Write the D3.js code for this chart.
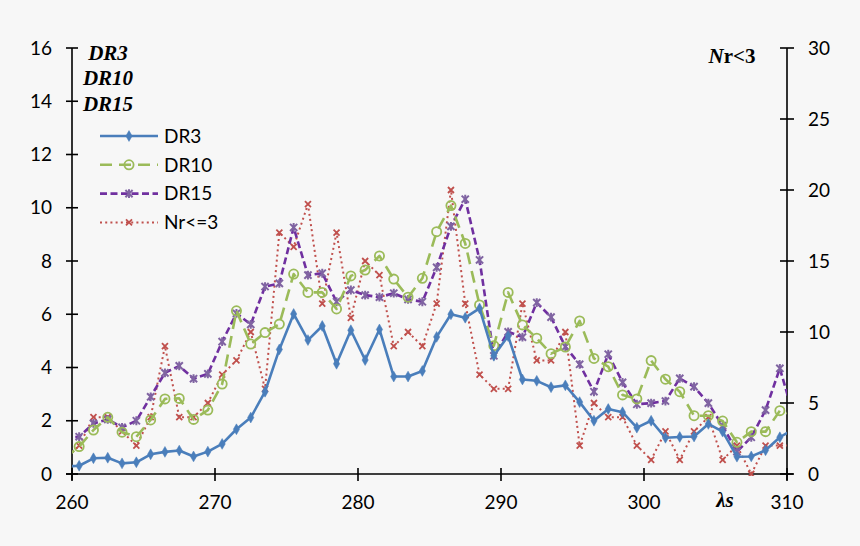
<!DOCTYPE html>
<html><head><meta charset="utf-8">
<script src="https://cdn.jsdelivr.net/npm/d3@7"></script>
<style>
html,body{margin:0;padding:0;background:#f7f7f7;}
svg{display:block;}
</style></head>
<body>
<svg id="chart" width="860" height="546"></svg>
<script>
// ---- data ----
const lambdaS = [259.5,260.5,261.5,262.5,263.5,264.5,265.5,266.5,267.5,268.5,269.5,
  270.5,271.5,272.5,273.5,274.5,275.5,276.5,277.5,278.5,279.5,
  280.5,281.5,282.5,283.5,284.5,285.5,286.5,287.5,288.5,289.5,
  290.5,291.5,292.5,293.5,294.5,295.5,296.5,297.5,298.5,299.5,
  300.5,301.5,302.5,303.5,304.5,305.5,306.5,307.5,308.5,309.5,310.5];
const dr3 = [0.28,0.31,0.59,0.61,0.40,0.44,0.74,0.83,0.88,0.66,0.84,
  1.13,1.68,2.12,3.09,4.68,6.01,5.03,5.56,4.14,5.40,
  4.28,5.43,3.66,3.66,3.87,5.15,6.00,5.87,6.22,4.44,
  5.18,3.55,3.50,3.26,3.33,2.70,2.00,2.44,2.32,1.74,
  2.00,1.36,1.39,1.41,1.88,1.59,0.65,0.66,0.89,1.38,1.70];
const dr10 = [0.60,1.03,1.65,2.13,1.57,1.40,2.03,2.82,2.84,2.05,2.40,
  3.38,6.13,4.88,5.31,5.63,7.51,6.82,6.82,6.20,7.44,
  7.66,8.19,7.32,6.64,7.35,9.10,10.08,8.66,6.35,4.82,
  6.82,5.60,5.10,4.52,4.77,5.75,4.34,4.03,2.97,2.82,
  4.26,3.56,3.09,2.19,2.19,1.99,1.19,1.59,1.59,2.38,2.20];
const dr15 = [1.35,1.40,1.90,2.05,1.75,2.00,2.90,3.80,4.06,3.58,3.76,
  4.97,6.03,5.62,7.04,7.16,9.26,7.47,7.54,6.47,6.91,
  6.72,6.64,6.79,6.56,6.47,7.76,9.30,10.32,8.04,4.44,
  5.34,5.14,6.44,5.89,4.78,4.12,3.09,4.50,3.44,2.62,
  2.66,2.74,3.59,3.28,2.66,1.81,0.84,1.38,2.40,3.97,2.10];
const nr3 = [1,2,4,4,3,2,4,9,4,4,5,
  7,8,10,6,17,16,19,12,17,11,
  15,14,9,10,9,12,20,12,7,6,
  6,12,8,8,10,2,5,4,4,2,
  1,3,1,3,4,1,2,0,2,2,2];
const xTicks = [260,270,280,290,300,310];
const yLeftTicks = [0,2,4,6,8,10,12,14,16];
const yRightTicks = [0,5,10,15,20,25,30];
const legendNames = ["DR3","DR10","DR15","Nr<=3"];

// ---- layout ----
const svg = d3.select("#chart");
const X0 = 72, X1 = 787, Y0 = 474, Y1 = 48;
const x = d3.scaleLinear().domain([260,310]).range([X0,X1]);
const yL = d3.scaleLinear().domain([0,16]).range([Y0,Y1]);
const yR = d3.scaleLinear().domain([0,30]).range([Y0,Y1]);

svg.append("rect").attr("width",860).attr("height",546).attr("fill","#f7f7f7");

const tickFont = "Lato, 'Open Sans', sans-serif";

// axes
const axisG = svg.append("g").attr("stroke","#000").attr("stroke-width",1.6);
axisG.append("line").attr("x1",X0).attr("x2",X0).attr("y1",Y1).attr("y2",Y0+6);
axisG.append("line").attr("x1",X1).attr("x2",X1).attr("y1",Y1).attr("y2",Y0+6);
axisG.append("line").attr("x1",X0-6).attr("x2",X1+6).attr("y1",Y0).attr("y2",Y0);
yLeftTicks.forEach(t=>{
  axisG.append("line").attr("x1",X0-6).attr("x2",X0+6).attr("y1",yL(t)).attr("y2",yL(t));
});
yRightTicks.forEach(t=>{
  axisG.append("line").attr("x1",X1-7).attr("x2",X1+7).attr("y1",yR(t)).attr("y2",yR(t));
});
xTicks.forEach(t=>{
  axisG.append("line").attr("x1",x(t)).attr("x2",x(t)).attr("y1",Y0-6).attr("y2",Y0+7);
});
const lab = svg.append("g").attr("font-family",tickFont).attr("font-size",19).attr("fill","#000");
yLeftTicks.forEach(t=>{
  lab.append("text").attr("x",52).attr("y",yL(t)).attr("dy","0.35em").attr("text-anchor","end").text(t);
});
yRightTicks.forEach(t=>{
  lab.append("text").attr("x",808).attr("y",yR(t)).attr("dy","0.35em").attr("text-anchor","start").text(t);
});
xTicks.forEach(t=>{
  lab.append("text").attr("x",x(t)).attr("y",509).attr("text-anchor","middle").text(t);
});

// axis titles
const serif = "'Liberation Serif','Times New Roman',serif";
const tl = svg.append("g").attr("font-family",serif).attr("font-size",21).attr("font-weight","bold").attr("font-style","italic").attr("text-anchor","middle");
tl.append("text").attr("x",108).attr("y",60).text("DR3");
tl.append("text").attr("x",108).attr("y",85).text("DR10");
tl.append("text").attr("x",108).attr("y",111).text("DR15");
const nt = svg.append("text").attr("font-family",serif).attr("font-size",21).attr("font-weight","bold").attr("x",732).attr("y",63).attr("text-anchor","middle");
nt.append("tspan").attr("font-style","italic").text("N");
nt.append("tspan").text("r<3");
svg.append("text").attr("font-family",serif).attr("font-size",21).attr("font-weight","bold").attr("font-style","italic")
  .attr("x",725).attr("y",507).attr("text-anchor","middle").text("λs");

// clip
svg.append("clipPath").attr("id","plotClip").append("rect").attr("x",X0).attr("y",0).attr("width",X1-X0).attr("height",Y0+2);
const plot = svg.append("g").attr("clip-path","url(#plotClip)");

const series = [
  {name:"Nr<=3", vals:nr3, y:yR, color:"#c0504d", marker:"#c0504d", width:2, dash:"2,3.2", sym:"x"},
  {name:"DR15", vals:dr15, y:yL, color:"#7030a0", marker:"#8064a2", width:2.6, dash:"7,3.5", sym:"star"},
  {name:"DR10", vals:dr10, y:yL, color:"#9bbb59", marker:"#9bbb59", width:2.6, dash:"12,7", sym:"circle"},
  {name:"DR3", vals:dr3, y:yL, color:"#4a7ebb", marker:"#4a7ebb", width:2.6, dash:null, sym:"diamond"}
];

function drawMarker(g, sym, cx, cy, color){
  if(sym==="diamond"){
    g.append("path").attr("d", d3.symbol().type(d3.symbolDiamond).size(34)())
      .attr("transform",`translate(${cx},${cy})`).attr("fill",color).attr("stroke",color).attr("stroke-width",0.5);
  } else if(sym==="circle"){
    g.append("circle").attr("cx",cx).attr("cy",cy).attr("r",4.6).attr("fill","none").attr("stroke",color).attr("stroke-width",1.8);
  } else if(sym==="star"){
    const s=3.6;
    g.append("path").attr("d",`M${cx-s},${cy-s}L${cx+s},${cy+s}M${cx-s},${cy+s}L${cx+s},${cy-s}M${cx},${cy-s-0.8}L${cx},${cy+s+0.8}`)
      .attr("stroke",color).attr("stroke-width",2).attr("fill","none");
  } else if(sym==="x"){
    const s=3;
    g.append("path").attr("d",`M${cx-s},${cy-s}L${cx+s},${cy+s}M${cx-s},${cy+s}L${cx+s},${cy-s}`)
      .attr("stroke",color).attr("stroke-width",1.8).attr("fill","none");
  }
}

series.forEach(s=>{
  const pts = lambdaS.map((l,i)=>[x(l), s.y(s.vals[i])]);
  const line = d3.line();
  const p = plot.append("path").attr("d",line(pts)).attr("fill","none")
    .attr("stroke",s.color).attr("stroke-width",s.width).attr("stroke-linejoin","round");
  if(s.dash) p.attr("stroke-dasharray",s.dash);
  const mg = plot.append("g");
  pts.forEach(pt=>{ if(pt[0]>=X0 && pt[0]<=X1) drawMarker(mg, s.sym, pt[0], pt[1], s.marker); });
});

// legend
const leg = svg.append("g");
const legSeries = ["DR3","DR10","DR15","Nr<=3"].map(n=>series.find(s=>s.name===n));
legSeries.forEach((s,i)=>{
  const ly = 136 + i*28.8;
  const l = leg.append("line").attr("x1",100).attr("x2",158).attr("y1",ly).attr("y2",ly)
    .attr("stroke",s.color).attr("stroke-width",s.width);
  if(s.dash) l.attr("stroke-dasharray", s.sym==="circle" ? "12,7" : s.dash);
  drawMarker(leg, s.sym, 129, ly, s.marker);
  leg.append("text").attr("x",164).attr("y",ly).attr("dy","0.36em").attr("font-family",tickFont)
    .attr("font-size",19).attr("fill","#000").text(legendNames[i]);
});
</script>
</body></html>
